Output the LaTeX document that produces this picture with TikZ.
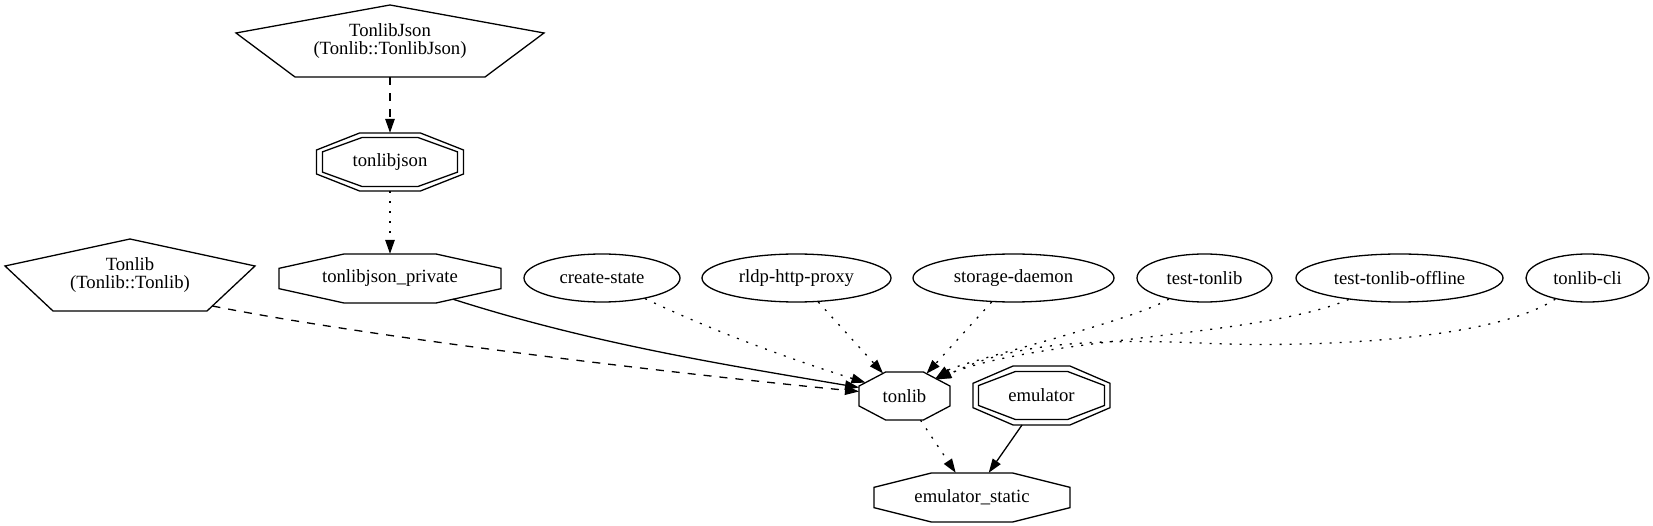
\documentclass[tikz,border=0pt]{standalone}
\usepackage{fontspec}
\setmainfont{Liberation Serif}
\usetikzlibrary{shapes.geometric,arrows.meta}
\tikzset{
  base/.style={draw=black, line width=1.3pt, line join=miter},
  box/.style={inner sep=0pt, font=\fontsize{18.67}{18.67}\selectfont, align=center},
  oval/.style={box, base, ellipse, minimum height=48pt},
  dep/.style={draw=black, line width=1.3pt, -{Triangle[length=14pt,width=9.5pt]}},
  dashdep/.style={dep, dash pattern=on 8pt off 8pt},
  dotdep/.style={dep, dash pattern=on 2pt off 8pt},
}
\begin{document}
\begin{tikzpicture}[x=1pt,y=-1pt]
  \useasboundingbox (0,0) rectangle (1653,526);

  % interface targets (pentagons)
  \node[box, minimum width=308pt, minimum height=72pt] (json) at (390,41) {TonlibJson\\(Tonlib::TonlibJson)};
  \draw[base, shift={(json.center)}] (0,-36) -- (154,-8) -- (95,36) -- (-95,36) -- (-154,-8) -- cycle;
  \node[box, minimum width=250pt, minimum height=72pt] (tonlibif) at (130,275) {Tonlib\\(Tonlib::Tonlib)};
  \draw[base, shift={(tonlibif.center)}] (0,-36) -- (125,-9) -- (77,36) -- (-77,36) -- (-125,-9) -- cycle;

  % libraries (octagons)
  \node[box, minimum width=147pt, minimum height=58pt] (jsonlib) at (390,162) {tonlibjson};
  \draw[base, shift={(jsonlib.center)}] (-73.5,-12) -- (-30.4,-29) -- (30.4,-29) -- (73.5,-12)
    -- (73.5,12) -- (30.4,29) -- (-30.4,29) -- (-73.5,12) -- cycle;
  \draw[base, shift={(jsonlib.center)}] (-67.5,-10.15) -- (-27.95,-24.5) -- (27.95,-24.5) -- (67.5,-10.15)
    -- (67.5,10.15) -- (27.95,24.5) -- (-27.95,24.5) -- (-67.5,10.15) -- cycle;

  \node[box, minimum width=222pt, minimum height=49pt] (jsonpriv) at (390,278.5) {tonlibjson\_private};
  \draw[base, shift={(jsonpriv.center)}] (-111,-10.15) -- (-46,-24.5) -- (46,-24.5) -- (111,-10.15)
    -- (111,10.15) -- (46,24.5) -- (-46,24.5) -- (-111,10.15) -- cycle;

  \node[box, minimum width=91pt, minimum height=48pt] (tonlib) at (904.5,396) {tonlib};
  \draw[base, shift={(tonlib.center)}] (-45.5,-9.94) -- (-18.85,-24) -- (18.85,-24) -- (45.5,-9.94)
    -- (45.5,9.94) -- (18.85,24) -- (-18.85,24) -- (-45.5,9.94) -- cycle;

  \node[box, minimum width=137pt, minimum height=59pt] (emu) at (1041.5,395.5) {emulator};
  \draw[base, shift={(emu.center)}] (-68.5,-12.2) -- (-28.4,-29.5) -- (28.4,-29.5) -- (68.5,-12.2)
    -- (68.5,12.2) -- (28.4,29.5) -- (-28.4,29.5) -- (-68.5,12.2) -- cycle;
  \draw[base, shift={(emu.center)}] (-63,-9.94) -- (-26.1,-24) -- (26.1,-24) -- (63,-9.94)
    -- (63,9.94) -- (26.1,24) -- (-26.1,24) -- (-63,9.94) -- cycle;

  \node[box, minimum width=196pt, minimum height=49pt] (emustatic) at (972,497.5) {emulator\_static};
  \draw[base, shift={(emustatic.center)}] (-98,-10.15) -- (-40.6,-24.5) -- (40.6,-24.5) -- (98,-10.15)
    -- (98,10.15) -- (40.6,24.5) -- (-40.6,24.5) -- (-98,10.15) -- cycle;

  % executables
  \node[oval, minimum width=156pt] (create) at (602,278) {create-state};
  \node[oval, minimum width=189pt] (rldp) at (796.5,278) {rldp-http-proxy};
  \node[oval, minimum width=201pt] (storage) at (1013.5,278) {storage-daemon};
  \node[oval, minimum width=135pt] (test) at (1204.5,278) {test-tonlib};
  \node[oval, minimum width=207pt] (testoff) at (1399.5,278) {test-tonlib-offline};
  \node[oval, minimum width=123pt] (cli) at (1587.5,278) {tonlib-cli};

  \draw[dashdep] (json.south) -- (jsonlib.north);
  \draw[dotdep] (jsonlib.south) -- (jsonpriv.north);
  \draw[dep] ([shift={(63,20.7)}]jsonpriv.center) .. controls (590,343) and (720,364)
    .. ([shift={(-45.5,-8.5)}]tonlib.center);
  \draw[dashdep] ([shift={(82.5,31)}]tonlibif.center) .. controls (363,336) and (659,372)
    .. ([shift={(-45.5,-4.5)}]tonlib.center);
  \draw[dotdep] (create) .. controls (717,333) and (796,361) .. ([shift={(-39,-13.4)}]tonlib.center);
  \draw[dotdep] (rldp) -- ([shift={(-21.5,-22.6)}]tonlib.center);
  \draw[dotdep] (storage) -- ([shift={(22,-22.3)}]tonlib.center);
  \draw[dotdep] (test) .. controls (1130,322) and (960,362) .. ([shift={(31,-17.6)}]tonlib.center);
  \draw[dotdep] (testoff) .. controls (1260,337) and (1040,337) .. ([shift={(32,-17.1)}]tonlib.center);
  \draw[dotdep] (cli) .. controls (1490,342) and (1300,348) .. (1200,343)
    .. controls (1080,338) and (1010,345) .. ([shift={(33,-16.5)}]tonlib.center);
  \draw[dotdep] ([xshift=16pt]tonlib.south) -- ([xshift=-16.3pt]emustatic.north);
  \draw[dep] ([shift={(-19.5,29.5)}]emu.center) -- ([xshift=16.7pt]emustatic.north);
\end{tikzpicture}
\end{document}
